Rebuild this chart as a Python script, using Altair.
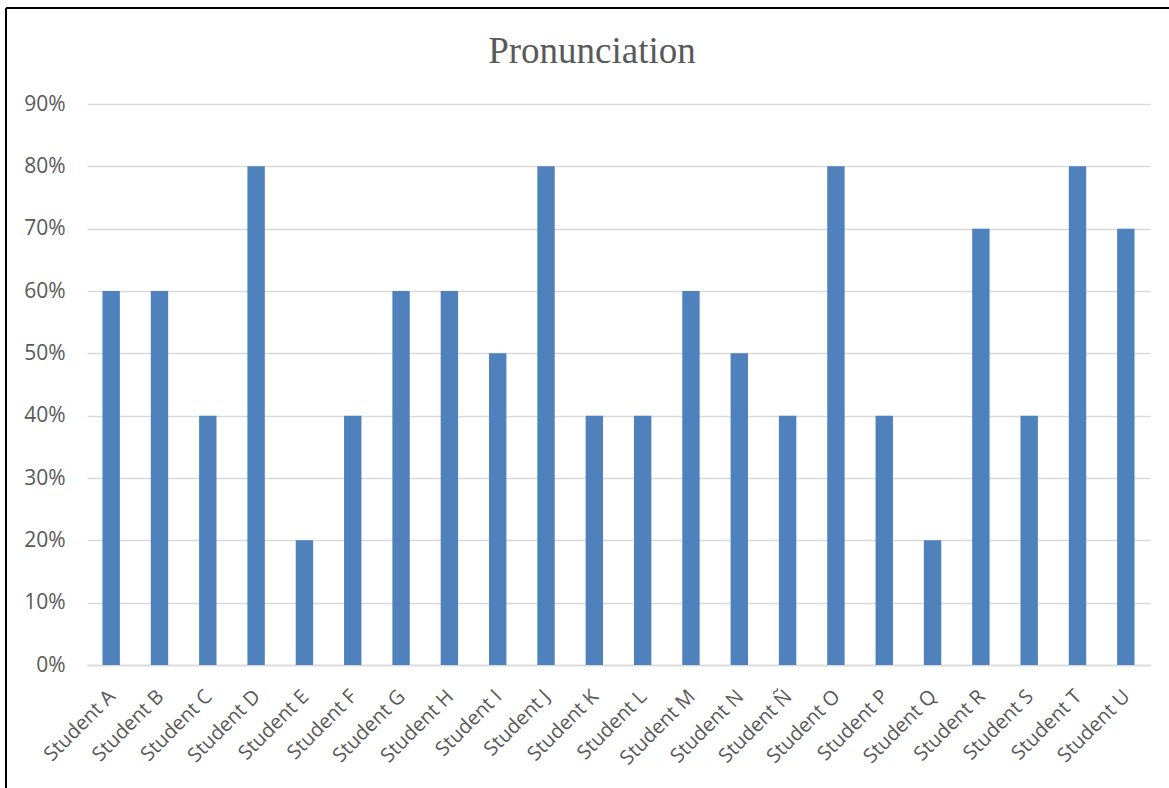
import altair as alt
import pandas as pd

students = ["Student A", "Student B", "Student C", "Student D", "Student E", "Student F",
            "Student G", "Student H", "Student I", "Student J", "Student K", "Student L",
            "Student M", "Student N", "Student Ñ", "Student O", "Student P", "Student Q",
            "Student R", "Student S", "Student T", "Student U"]
scores = [0.6, 0.6, 0.4, 0.8, 0.2, 0.4, 0.6, 0.6, 0.5, 0.8, 0.4, 0.4,
          0.6, 0.5, 0.4, 0.8, 0.4, 0.2, 0.7, 0.4, 0.8, 0.7]
y_ticks = [0, 0.1, 0.2, 0.3, 0.4, 0.5, 0.6, 0.7, 0.8, 0.9]
title_text = "Pronunciation"

W, H = 1063, 561
PAD_L, PAD_T = 87, 104

df = pd.DataFrame({"student": students, "score": scores})

bars = alt.Chart(df).mark_bar(color="#4F81BD").encode(
    x=alt.X("student:N", sort=students, title=None,
            scale=alt.Scale(paddingInner=0.64, paddingOuter=0.32),
            axis=alt.Axis(labelAngle=-45, labelFont="Open Sans", labelFontSize=20,
                          labelColor="#595959", ticks=False, domainColor="#d9d9d9",
                          domainWidth=1.5, labelPadding=21, labelOffset=-6,
                          labelOverlap=False, labelAlign="right", labelBaseline="top",
                          grid=False)),
    y=alt.Y("score:Q", title=None,
            scale=alt.Scale(domain=[0, 0.9], nice=False),
            axis=alt.Axis(values=y_ticks, format=".0%", labelFont="Open Sans",
                          labelFontSize=21, labelColor="#595959", ticks=False,
                          domain=False, gridColor="#d9d9d9", gridWidth=1.5,
                          labelPadding=22)),
)

heading = alt.Chart(pd.DataFrame({"t": [title_text]})).mark_text(
    font="Liberation Serif", fontSize=37, color="#595959", baseline="alphabetic",
    align="center"
).encode(text="t:N", x=alt.value(505), y=alt.value(-41))

# outer chart frame (left and top edges)
frame = alt.Chart(pd.DataFrame({"k": [0]}))
left_edge = frame.mark_rule(color="black", strokeWidth=2).encode(
    x=alt.value(-81), y=alt.value(-96), y2=alt.value(700))
top_edge = frame.mark_rule(color="black", strokeWidth=2).encode(
    x=alt.value(-81), x2=alt.value(1100), y=alt.value(-96))

chart = alt.layer(bars, heading, left_edge, top_edge).properties(
    width=W, height=H,
    autosize=alt.AutoSizeParams(type="none"),
    padding={"left": PAD_L, "top": PAD_T, "right": 1169 - PAD_L - W, "bottom": 788 - PAD_T - H},
    view=alt.ViewBackground(strokeWidth=0, strokeOpacity=0),
).configure(background="white")

chart.save("out.html", embed_options={"renderer": "svg", "actions": False})
